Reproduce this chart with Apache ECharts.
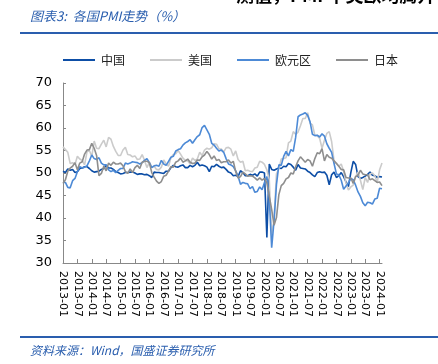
<!DOCTYPE html>
<html>
<head>
<meta charset="utf-8">
<script src="https://cdn.jsdelivr.net/npm/echarts@6/dist/echarts.min.js"></script>
<style>
html,body{margin:0;padding:0;background:#fff;}
#tu_1{width:438px;height:364px;}
</style>
</head>
<body>
<div id="tu_1"></div>
<script>
// 月份 2013-01 ~ 2024-02
var months = [];
for (var y = 2013; y <= 2024; y++) {
	for (var m = 1; m <= 12; m++) {
		if (y == 2024 && m > 2) break;
		months.push(y + '-' + (m < 10 ? '0' + m : m));
	}
}
var names = ['中国', '美国', '欧元区', '日本'];
var china = [
	50.4,50.1,50.9,50.6,50.8,50.1,50.3,51.0,51.1,51.4,51.4,51.0,
	50.5,50.2,50.3,50.4,50.8,51.0,51.7,51.1,51.1,50.8,50.3,50.1,
	49.8,49.9,50.1,50.1,50.2,50.2,50.0,49.7,49.8,49.8,49.6,49.7,
	49.4,49.0,50.2,50.1,50.1,50.0,49.9,50.4,50.4,51.2,51.7,51.4,
	51.3,51.6,51.8,51.2,51.2,51.7,51.4,51.7,52.4,51.6,51.8,51.6,
	51.3,50.3,51.5,51.4,51.9,51.5,51.2,51.3,50.8,50.2,50.0,49.4,
	49.5,49.2,50.5,50.1,49.4,49.4,49.7,49.5,49.8,49.3,50.2,50.2,
	50.0,35.7,52.0,50.8,50.6,50.9,51.1,51.0,51.5,51.4,52.1,51.9,
	51.3,50.6,51.9,51.1,51.0,50.9,50.4,50.1,49.6,49.2,50.1,50.3,
	50.1,50.2,49.5,47.4,49.6,50.2,49.0,49.4,50.1,49.2,48.0,47.0,
	50.1,52.6,51.9,49.2,48.8,49.0,49.3,49.7,50.2,49.5,49.4,49.0,
	49.2,49.1
];
var usa = [
	55.8,55.2,54.6,52.1,52.3,51.9,53.7,53.1,52.8,51.8,54.7,55.0,
	53.7,57.1,55.5,55.4,56.4,57.3,55.8,57.9,57.5,55.9,54.8,53.9,
	53.9,55.1,55.7,54.1,54.0,53.6,53.8,53.0,53.1,54.1,52.8,51.2,
	52.4,51.3,51.5,50.8,50.7,51.3,52.9,52.0,51.5,53.4,54.1,54.3,
	55.0,54.2,53.3,52.8,52.7,52.0,53.3,52.8,53.1,54.6,53.9,55.1,
	55.5,55.3,55.6,56.5,56.4,55.4,55.3,54.7,55.6,55.7,55.3,53.8,
	54.9,53.0,52.4,52.6,50.5,50.6,50.4,50.3,51.1,51.3,52.6,52.4,
	51.9,50.7,48.5,36.1,39.8,49.8,50.9,53.1,53.2,53.4,56.7,57.1,
	59.2,58.6,59.1,60.5,62.1,62.1,63.4,61.1,60.7,58.4,58.3,57.7,
	55.5,57.3,58.8,59.2,57.0,52.7,52.2,51.5,52.0,50.4,47.7,46.2,
	46.9,47.3,49.2,50.2,48.4,46.3,49.0,47.9,49.8,50.0,49.4,47.9,
	50.7,52.2
];
var euro = [
	47.9,47.9,46.8,46.7,48.3,48.8,50.3,51.4,51.1,51.3,51.6,52.7,
	54.0,53.2,53.0,53.4,52.2,51.8,51.8,50.7,50.3,50.6,50.1,50.6,
	51.0,51.0,52.2,52.0,52.2,52.5,52.4,52.3,52.0,52.3,52.8,53.2,
	52.3,51.2,51.6,51.7,51.5,52.8,52.0,51.7,52.6,53.5,53.7,54.9,
	55.2,55.4,56.2,56.7,57.0,57.4,56.6,57.4,58.1,58.5,60.1,60.6,
	59.6,58.6,56.6,56.2,55.5,54.9,55.1,54.6,53.2,52.0,51.8,51.4,
	50.5,49.3,47.5,47.9,47.7,47.6,46.5,47.0,45.7,45.9,46.9,46.3,
	47.9,49.2,44.5,33.4,39.4,47.4,51.8,51.7,53.7,54.8,53.8,55.2,
	54.8,57.9,62.5,62.9,63.1,63.4,62.8,61.4,58.6,58.3,58.4,58.0,
	58.7,58.2,56.5,55.5,54.6,52.1,49.8,49.6,48.4,46.4,47.1,47.8,
	48.8,48.5,47.3,45.8,44.8,43.4,42.7,43.5,43.4,43.1,44.2,44.4,
	46.6,46.5
];
var japan = [
	47.7,48.5,50.4,51.1,51.5,52.3,50.7,52.2,52.5,54.2,55.1,55.2,
	56.6,55.5,53.9,49.4,49.9,51.5,50.5,52.2,51.7,52.4,52.0,52.0,
	52.2,51.6,50.3,49.9,50.9,50.1,51.2,51.7,51.0,52.4,52.6,52.6,
	52.3,50.1,49.1,48.2,47.7,48.1,49.3,49.5,50.4,51.4,51.3,52.4,
	52.7,53.3,52.4,52.7,53.1,52.4,52.1,52.2,52.9,52.8,53.6,54.0,
	54.8,54.1,53.1,53.8,52.8,53.0,52.3,52.5,52.5,52.9,52.2,52.6,
	50.3,48.9,49.2,50.2,49.8,49.3,49.4,49.3,48.9,48.4,48.9,48.4,
	48.8,47.8,44.8,41.9,38.4,40.1,45.2,47.2,47.7,48.7,49.0,50.0,
	49.8,51.4,52.7,53.6,53.0,52.4,53.0,52.7,51.5,53.2,54.5,54.3,
	55.4,52.7,54.1,53.5,53.3,52.7,52.1,51.5,50.8,50.7,49.0,48.9,
	48.9,47.7,49.2,49.5,50.6,49.8,49.6,49.6,48.5,48.7,48.3,47.9,
	48.0,47.2
];
var yTicks = [30, 70, 5];//min,max,interval
var colors = ['#0d4ea6', '#cbcbcb', '#4d8ad6', '#8e8e8e'];
var blue = '#2a5eae';

var myChart_1 = echarts.init(document.getElementById('tu_1'));
function mkSeries(name, data) {
	return {
		name: name,
		type: 'line',
		symbol: 'none',
		lineStyle: { width: 1.6 },
		data: data
	};
}
var option = {
	animation: false,
	color: colors,
	textStyle: { fontFamily: '"DejaVu Sans", sans-serif' },
	graphic: [
		{ type: 'text', left: 236, top: -14, style: { text: '测值，PMI 中美欧均腾升', fill: '#000', font: 'bold 18px "Noto Sans CJK SC"' } },
		{ type: 'text', left: 30, top: 10, style: { text: '图表3:  各国PMI走势（%）', fill: blue, font: 'italic 13px "Noto Sans CJK SC"' } },
		{ type: 'line', shape: { x1: 20, y1: 33, x2: 438, y2: 33 }, style: { stroke: blue, lineWidth: 2 } },
		{ type: 'line', shape: { x1: 20, y1: 337, x2: 438, y2: 337 }, style: { stroke: blue, lineWidth: 2 } },
		{ type: 'text', left: 30, top: 344, style: { text: '资料来源：Wind，国盛证券研究所', fill: blue, font: 'italic 12px "Noto Sans CJK SC"' } }
	],
	legend: {
		data: names,
		left: 63,
		top: 54,
		padding: 0,
		icon: 'rect',
		itemWidth: 32,
		itemHeight: 2,
		itemGap: 25,
		textStyle: { fontSize: 12, color: '#222', fontFamily: '"Noto Sans CJK SC"', padding: [0, 0, 0, 1] }
	},
	grid: { left: 63, right: 56, top: 83, bottom: 101 },
	xAxis: {
		type: 'category',
		boundaryGap: false,
		data: months,
		axisLine: { lineStyle: { color: '#888' } },
		axisTick: { inside: true, length: 4, interval: 5, lineStyle: { color: '#888' } },
		axisLabel: { interval: 5, rotate: -90, fontSize: 11, color: '#000', margin: 8 }
	},
	yAxis: {
		type: 'value',
		min: yTicks[0],
		max: yTicks[1],
		interval: yTicks[2],
		axisLine: { show: true, lineStyle: { color: '#888' } },
		axisTick: { show: true, inside: true, length: 3, lineStyle: { color: '#888' } },
		splitLine: { show: false },
		axisLabel: { fontSize: 13, color: '#000', margin: 11 }
	},
	series: [
		mkSeries(names[0], china),
		mkSeries(names[1], usa),
		mkSeries(names[2], euro),
		mkSeries(names[3], japan)
	]
};
myChart_1.setOption(option);
</script>
</body>
</html>
